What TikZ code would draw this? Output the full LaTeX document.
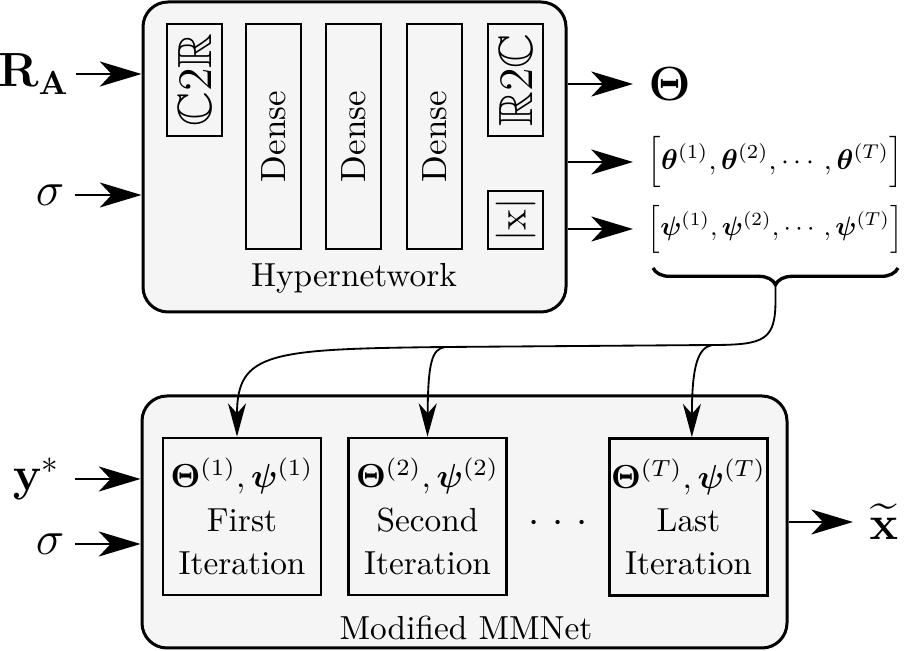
\documentclass[tikz,border=0pt]{standalone}
\usepackage{amsmath,amssymb,bm,graphicx}
\usetikzlibrary{arrows.meta,decorations.pathreplacing,calc}
\definecolor{boxgray}{HTML}{F5F5F5}
\begin{document}
\begin{tikzpicture}[x=0.3pt,y=-0.3pt,
  outer/.style={draw, line width=0.9pt, rounded corners=7.5pt, fill=boxgray},
  blk/.style={draw, line width=0.8pt, fill=boxgray, inner sep=0pt},
  lbl/.style={inner sep=0pt},
  bigarrow/.style={line width=0.65pt, -{Stealth[length=12.5pt,width=7.5pt,inset=3.5pt]}},
  conn/.style={line width=0.55pt, -{Stealth[length=10pt,width=5.4pt,inset=3pt]}},
]
\useasboundingbox (0,0) rectangle (905,651);

% ---------------- Hypernetwork ----------------
\node[outer, minimum width=126.9pt, minimum height=93pt] (hyper) at (354.5,157) {};
\node (hlabel) at (354,278) {Hypernetwork};
\node[blk, rotate=90, minimum width=33.6pt, minimum height=16.5pt] (c2r) at (194.5,80) {\Large$\mathbb{C}2\mathbb{R}$};
\node[blk, rotate=90, minimum width=67.5pt, minimum height=16.5pt, font=\fontsize{10.5}{12}\selectfont] (d1) at (273.5,136.5) {Dense};
\node[blk, rotate=90, minimum width=67.5pt, minimum height=16.5pt, font=\fontsize{10.5}{12}\selectfont] (d2) at (353.5,136.5) {Dense};
\node[blk, rotate=90, minimum width=67.5pt, minimum height=16.5pt, font=\fontsize{10.5}{12}\selectfont] (d3) at (434.5,136.5) {Dense};
\node[blk, rotate=90, minimum width=33.6pt, minimum height=16.5pt] (r2c) at (515.5,80) {\Large$\mathbb{R}2\mathbb{C}$};
\node[blk, rotate=90, minimum width=17.4pt, minimum height=16.5pt] (abs) at (515.5,220) {\large$|\mathrm{x}|$};

% inputs
\node[lbl, anchor=east] (ra) at (70,74) {\Large$\mathbf{R}_{\mathbf{A}}$};
\node[lbl, anchor=east] (s1) at (65,195) {\Large$\sigma$};
\draw[bigarrow] (ra.east) ++(6,0) -- (ra.east -| hyper.west);
\draw[bigarrow] (s1.east) ++(10,0) -- (s1.east -| hyper.west);

% outputs
\node[lbl, anchor=west] (theta) at (648,84) {\Large$\bm{\Theta}$};
\node[lbl, anchor=west] (tl) at (647,162) {\resizebox{76.5pt}{!}{$\Big[\bm{\theta}^{(1)},\bm{\theta}^{(2)},\cdots,\bm{\theta}^{(T)}\Big]$}};
\node[lbl, anchor=west] (pl) at (647,229) {\resizebox{76.5pt}{!}{$\Big[\bm{\psi}^{(1)},\bm{\psi}^{(2)},\cdots,\bm{\psi}^{(T)}\Big]$}};
\draw[bigarrow] (theta.west -| hyper.east) -- ([xshift=-4.5pt]theta.west);
\draw[bigarrow] (tl.west -| hyper.east) -- ([xshift=-4.2pt]tl.west);
\draw[bigarrow] (pl.west -| hyper.east) -- ([xshift=-4.2pt]pl.west);

% brace
\draw[decorate, decoration={brace, mirror, amplitude=5pt}, line width=1pt] (653,268) -- (898,268);
\coordinate (bt) at (775.5,285);

% ---------------- Modified MMNet ----------------
\node[outer, minimum width=193.5pt, minimum height=75.6pt] (mm) at (464.5,522) {};
\node (mmlabel) at (466,628) {Modified MMNet};
\node[blk, minimum width=47.4pt, minimum height=47.1pt, align=center] (it1) at (242,516.5)
  {$\bm{\Theta}^{(1)},\bm{\psi}^{(1)}$\\[1pt]First\\[1pt]Iteration};
\node[blk, minimum width=47.4pt, minimum height=47.1pt, align=center] (it2) at (427.5,516.5)
  {$\bm{\Theta}^{(2)},\bm{\psi}^{(2)}$\\[1pt]Second\\[1pt]Iteration};
\node[blk, minimum width=47.4pt, minimum height=47.1pt, align=center] (it3) at (688.5,517)
  {$\bm{\Theta}^{(T)},\bm{\psi}^{(T)}$\\[1pt]Last\\[1pt]Iteration};
\node (dots) at (558,524) {\large${\cdot}\mkern6mu{\cdot}\mkern6mu{\cdot}$};

% inputs / output
\node[lbl, anchor=east] (ys) at (61,479) {\Large$\mathbf{y}^{*}$};
\node[lbl, anchor=east] (s2) at (65,544) {\Large$\sigma$};
\draw[bigarrow] (ys.east) ++(14,0) -- (ys.east -| mm.west);
\draw[bigarrow] (s2.east) ++(10,0) -- (s2.east -| mm.west);
\node[lbl, anchor=west] (xt) at (869,522) {\Large$\widetilde{\mathbf{x}}$};
\draw[bigarrow] (xt.west -| mm.east) -- ([xshift=-4.8pt]xt.west);

% connectors from the brace
\coordinate (j3) at (712,345);
\coordinate (j2) at (445,347);
\draw[conn] (bt) -- (775.5,300) .. controls (775.5,340) and (765,345) .. (j3) -- (j2)
  .. controls (270,349) and (237,352) .. ([xshift=-1.5pt]it1.north);
\draw[conn] (j2) .. controls (432,349) and (428,362) .. (it2.north);
\draw[conn] (j3) .. controls (698,348) and (692,365) .. ([xshift=1pt]it3.north);
\end{tikzpicture}
\end{document}
